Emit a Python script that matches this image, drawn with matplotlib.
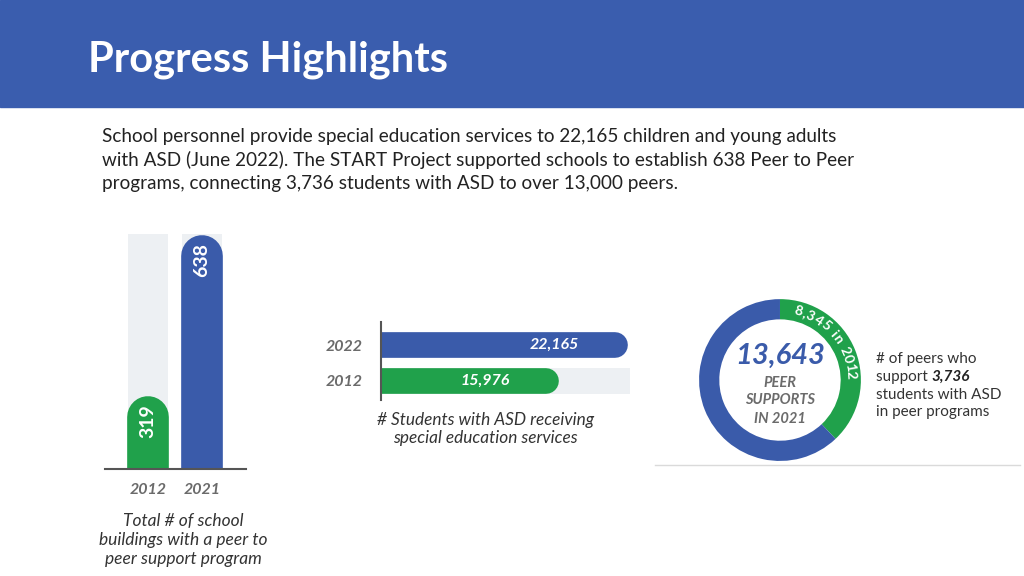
import numpy as np
import matplotlib.pyplot as plt
from matplotlib.patches import Rectangle
from matplotlib.lines import Line2D
from matplotlib.transforms import offset_copy

# data
bld_years = ['2012', '2021']
bld_counts = [319, 638]
stu_years = ['2012', '2022']
stu_counts = [15976, 22165]
peer_2012 = 8345
peer_2021 = 13643
peer_students = '3,736'

BLUE = '#3A5BAA'
GREEN = '#20A14B'
LIGHT = '#EDF0F3'
GRAY_TXT = '#6b6b6b'
plt.rcParams['font.family'] = ['Lato', 'DejaVu Sans']

fig = plt.figure(figsize=(10.24, 5.76), dpi=100)

# header band + title
fig.patches.append(Rectangle((0, 0.8142), 1, 0.1858, transform=fig.transFigure,
                             color='#3A5DAE', zorder=0))
fig.text(0.086, 0.896, 'Progress Highlights', color='white', fontsize=30,
         fontweight='bold', va='center', ha='left')

intro = ("School personnel provide special education services to 22,165 children and young adults\n"
         "with ASD (June 2022). The START Project supported schools to establish 638 Peer to Peer\n"
         "programs, connecting 3,736 students with ASD to over 13,000 peers.")
fig.text(0.1, 0.722, intro, fontsize=13.6, color='#222222', va='center', ha='left',
         linespacing=1.4)

# ---- left: school buildings (vertical rounded bars) ----
ax1 = fig.add_axes([0.1025, 0.1858, 0.1377, 0.408])
p = 1.68  # the slide's bars are not drawn to a linear scale
ax1.set_yscale('function', functions=(lambda v: np.power(np.clip(v, 0, None), p),
                                      lambda v: np.power(np.clip(v, 0, None), 1 / p)))
ax1.set_ylim(0, 640)
ax1.set_xlim(-0.797, 1.814)
ax1.bar([0, 1], [640, 640], width=0.74, color=LIGHT, zorder=1)
lw1 = 30
shift1 = offset_copy(ax1.transData, fig=fig, y=-lw1 / 2, units='points')
for i, (v, c) in enumerate(zip(bld_counts, [GREEN, BLUE])):
    ax1.plot([i, i], [0, v], color=c, lw=lw1, solid_capstyle='round',
             transform=shift1, zorder=2)
    ax1.annotate(str(v), (i, v), xytext=(0, -6), textcoords='offset points',
                 rotation=90, ha='center', va='top', color='white',
                 fontsize=14, fontweight='bold', zorder=3)
ax1.set_xticks([0, 1], bld_years)
ax1.set_yticks([])
ax1.tick_params(axis='x', length=0, pad=10, labelsize=11.5, labelcolor=GRAY_TXT)
for t in ax1.get_xticklabels():
    t.set_fontweight('bold')
    t.set_fontstyle('italic')
for s in ['top', 'right', 'left']:
    ax1.spines[s].set_visible(False)
ax1.spines['bottom'].set_color('#555555')
ax1.spines['bottom'].set_linewidth(1.5)
ax1.minorticks_off()
fig.text(0.179, 0.0625, 'Total # of school\nbuildings with a peer to\npeer support program',
         ha='center', va='center', fontsize=12.5, fontstyle='italic', color='#333333',
         linespacing=1.2)

# ---- middle: students with ASD (horizontal rounded bars) ----
ax2 = fig.add_axes([0.372, 0.3056, 0.243, 0.135])
xmax = 22344
ax2.set_xlim(0, xmax)
ax2.set_ylim(-0.53, 1.64)
ax2.barh(0, xmax, height=0.72, color=LIGHT, zorder=1)
lw2 = 18.5
shift2 = offset_copy(ax2.transData, fig=fig, x=-lw2 / 2, units='points')
for i, (v, c) in enumerate(zip(stu_counts, [GREEN, BLUE])):
    ax2.plot([0, v], [i, i], color=c, lw=lw2, solid_capstyle='round',
             transform=shift2, zorder=2)
    ax2.annotate(f'{v:,}', (v, i), xytext=(-35, 0), textcoords='offset points',
                 ha='right', va='center', color='white', fontsize=11.5,
                 fontweight='bold', fontstyle='italic', zorder=3)
ax2.set_yticks([0, 1], stu_years)
ax2.set_xticks([])
ax2.tick_params(axis='y', length=0, pad=13, labelsize=11.5, labelcolor=GRAY_TXT)
for t in ax2.get_yticklabels():
    t.set_fontweight('bold')
    t.set_fontstyle('italic')
for s in ['top', 'right', 'bottom']:
    ax2.spines[s].set_visible(False)
ax2.spines['left'].set_color('#555555')
ax2.spines['left'].set_linewidth(1.5)
fig.text(0.474, 0.255, '# Students with ASD receiving\nspecial education services',
         ha='center', va='center', fontsize=12.4, fontstyle='italic', color='#333333',
         linespacing=1.1)

# ---- right: peer supports donut ----
ax3 = fig.add_axes([0.6787, 0.1927, 0.166, 0.295])
ax3.pie([peer_2012, peer_2021], colors=[GREEN, BLUE], startangle=90, counterclock=False,
        radius=1, wedgeprops=dict(width=0.25, edgecolor='none'))
ax3.set_xlim(-1.05, 1.05)
ax3.set_ylim(-1.05, 1.05)
ax3.set_aspect('equal')

# curved label along the green arc
arc_txt = f'{peer_2012:,} in 2012'
narrow = {',': 0.4, ' ': 0.45, 'i': 0.45, '1': 0.75}
weights = [narrow.get(ch, 1.0) for ch in arc_txt]
cum = np.cumsum(weights) - np.array(weights) / 2
angs = 79 - cum / cum[-1] * 75
for ch, a in zip(arc_txt, angs):
    r = 0.875
    ax3.text(r * np.cos(np.radians(a)), r * np.sin(np.radians(a)), ch,
             rotation=a - 90, rotation_mode='anchor', ha='center', va='center',
             color='white', fontsize=10, fontweight='bold')

ax3.text(0, 0.30, f'{peer_2021:,}', ha='center', va='center', color=BLUE,
         fontsize=21, fontweight='bold', fontstyle='italic')
for y, s in zip([-0.04, -0.25, -0.48], ['PEER', 'SUPPORTS', 'IN 2021']):
    ax3.text(0, y, s, ha='center', va='center', color=GRAY_TXT, fontsize=10.5,
             fontweight='bold', fontstyle='italic')

fig.add_artist(Line2D([0.64, 0.996], [0.1927, 0.1927], transform=fig.transFigure,
                      color='#DADADA', lw=1))

tx = 0.855
fig.text(tx, 0.377, '# of peers who', fontsize=11, color='#333333', va='center')
t2 = fig.text(tx, 0.346, 'support ', fontsize=11, color='#333333', va='center')
ax3.annotate(peer_students, xy=(1, 0.5), xycoords=t2, va='center', ha='left',
             fontsize=11, fontweight='bold', fontstyle='italic', color='#222222',
             annotation_clip=False)
fig.text(tx, 0.315, 'students with ASD', fontsize=11, color='#333333', va='center')
fig.text(tx, 0.284, 'in peer programs', fontsize=11, color='#333333', va='center')

fig.savefig('out.png', dpi=100)
